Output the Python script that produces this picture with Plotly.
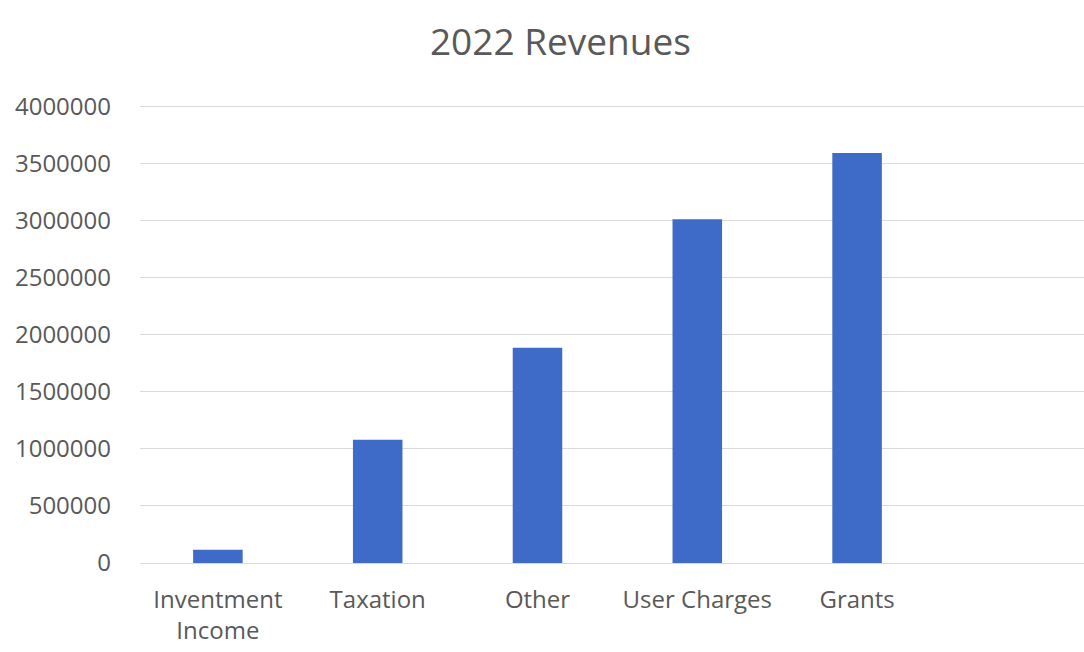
import plotly.graph_objects as go

categories = ["Inventment<br>Income", "Taxation", "Other", "User Charges", "Grants"]
revenues = [115000, 1080000, 1885000, 3010000, 3590000]
y_ticks = [0, 500000, 1000000, 1500000, 2000000, 2500000, 3000000, 3500000, 4000000]

text_color = "#595959"
grid_color = "#d9d9d9"
bar_color = "#3F6BC8"

fig = go.Figure(
    go.Bar(
        x=categories,
        y=revenues,
        marker=dict(color=bar_color, line=dict(width=0)),
        width=0.31,
    )
)

fig.update_layout(
    width=1084,
    height=652,
    paper_bgcolor="white",
    plot_bgcolor="white",
    margin=dict(l=140, r=0, t=105, b=89),
    showlegend=False,
    font=dict(family="Open Sans", color=text_color, size=24),
    title=dict(
        text="2022 Revenues",
        x=0.517,
        xanchor="center",
        y=0.935,
        yanchor="middle",
        font=dict(size=37, color=text_color),
    ),
)

fig.update_xaxes(
    type="category",
    range=[-0.4875, 5.42],
    showgrid=False,
    showline=False,
    ticks="",
    ticklabelstandoff=20,
    tickfont=dict(size=24, color=text_color),
)

fig.update_yaxes(
    range=[0, 4010000],
    tickvals=y_ticks,
    ticktext=[str(v) for v in y_ticks],
    showgrid=True,
    gridcolor=grid_color,
    gridwidth=1,
    zeroline=True,
    zerolinecolor=grid_color,
    zerolinewidth=1,
    showline=False,
    ticks="",
    ticklabelstandoff=28,
    tickfont=dict(size=24, color=text_color),
)

fig.write_html("out.html")
